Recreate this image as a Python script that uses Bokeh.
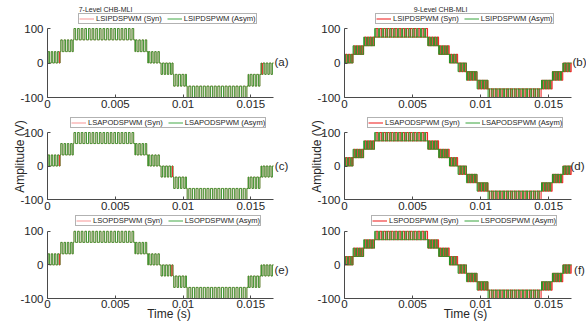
import math
from bokeh.plotting import figure
from bokeh.models import Legend, LegendItem, Label, FixedTicker, Range1d
from bokeh.layouts import column, row
from bokeh.embed import file_html
from bokeh.resources import INLINE

# ---------------- data (times in ms, amplitudes in V) ----------------
# 7-level CHB-MLI staircase bands
steps7_start = [0.00, 0.93, 1.90, 6.45, 7.40, 8.33, 9.26, 10.25, 14.80, 15.75]
steps7_end   = [0.93, 1.90, 6.45, 7.40, 8.33, 9.26, 10.25, 14.80, 15.75, 16.67]
steps7_low   = [0, 33, 67, 33, 0, -33, -67, -100, -67, -33]
steps7_high  = [33, 67, 100, 67, 33, 0, -33, -67, -33, 0]
pulses7      = [4, 4, 17, 4, 4, 4, 4, 17, 4, 4]

# 9-level CHB-MLI staircase bands
steps9_start = [0.00, 0.62, 1.40, 2.20, 6.13, 6.93, 7.71, 8.33, 8.95, 9.73, 10.53, 14.47, 15.27, 16.05]
steps9_end   = [0.62, 1.40, 2.20, 6.13, 6.93, 7.71, 8.33, 8.95, 9.73, 10.53, 14.47, 15.27, 16.05, 16.67]
steps9_low   = [0, 25, 50, 75, 50, 25, 0, -25, -50, -75, -100, -75, -50, -25]
steps9_high  = [25, 50, 75, 100, 75, 50, 25, 0, -25, -50, -75, -50, -25, 0]
pulses9      = [3, 4, 4, 14, 4, 4, 3, 3, 4, 4, 14, 4, 4, 3]

# instants where only the symmetric (Syn) waveform switches, 7-level panels
syn_only_a = [0.90, 15.85]
syn_only_c = [0.90, 9.22]
syn_only_e = [0.90, 9.18]

syn_labels  = ["LSIPDSPWM (Syn)", "LSIPDSPWM (Syn)", "LSAPODSPWM (Syn)",
               "LSAPODSPWM (Syn)", "LSOPDSPWM (Syn)", "LSPODSPWM (Syn)"]
asym_labels = ["LSIPDSPWM (Asym)", "LSIPDSPWM (Asym)", "LSAPODSPWM (Asym)",
               "LSAPODSPWM (Asym)", "LSOPDSPWM (Asym)", "LSPODSPWM (Asym)"]
panel_tags  = ["(a)", "(b)", "(c)", "(d)", "(e)", "(f)"]
col_titles  = ["7-Level CHB-MLI", "9-Level CHB-MLI"]

x_ticks_ms    = [0, 5, 10, 15]
x_tick_labels = ["0", "0.005", "0.01", "0.015"]
y_ticks       = [-100, 0, 100]
y_tick_labels = ["-100", "0", "100"]
x_label = "Time (s)"
y_label = "Amplitude (V)"
period_ms = 16.67
amp = 100

# ---------------- styles / geometry (pixels) ----------------
GREEN = "#229a26"
RED = "#ee2b2b"
FONT = "Liberation Sans"
TXT = "#262626"
AX = "#4a4a4a"

COLS = [dict(W=290, left=47, axis_len=226), dict(W=296, left=54, axis_len=227)]
ROWS = [dict(H=113, bottom=16, y100=28), dict(H=102, bottom=16, y100=19), dict(H=108, bottom=24, y100=16)]
LEG_X = [31, 31, 23, 23, 28, 27]
LEG_Y = [73, 73, 71, 71, 72, 72]
TAG_X = [234, 235, 234, 233, 234, 235]
TAG_Y = [36, 36, 34, 34, 29, 29]


def pwm_path(starts, ends, lows, highs, counts, phase, duty):
    xs, ys = [], []
    for s, e, lo, hi, n in zip(starts, ends, lows, highs, counts):
        base, peak = (lo, hi) if lo >= 0 else (hi, lo)
        w = (e - s) / n
        for k in range(n):
            t0 = s + (k + phase) * w
            t1 = t0 + duty * w
            xs += [s + k * w, t0, t0, t1, t1]
            ys += [base, base, peak, peak, base]
        xs.append(e)
        ys.append(base)
    return xs, ys


def band_of(t, starts, ends, lows, highs):
    for s, e, lo, hi in zip(starts, ends, lows, highs):
        if s <= t <= e:
            return lo, hi
    return 0, 0


def make_panel(idx, level9, syn_only):
    c = COLS[idx % 2]
    r = idx // 2
    g = ROWS[r]
    fh = g["H"] - g["bottom"]
    x_end = period_ms * (c["W"] - c["left"]) / c["axis_len"]
    y_top = amp + g["y100"] * 2 * amp / (fh - g["y100"])
    p = figure(width=c["W"], height=g["H"], min_border_left=c["left"], min_border_right=0,
               min_border_top=0, min_border_bottom=g["bottom"],
               x_range=Range1d(0, x_end), y_range=Range1d(-amp, y_top),
               output_backend="svg", toolbar_location=None)
    p.outline_line_color = None
    p.grid.visible = False
    p.background_fill_color = "white"
    p.border_fill_color = "white"

    if level9:
        st = (steps9_start, steps9_end, steps9_low, steps9_high, pulses9)
        rx, ry = pwm_path(*st, phase=0.42, duty=0.46)
        gx, gy = pwm_path(*st, phase=0.04, duty=0.3)
        r_red = p.line(rx, ry, line_color=RED, line_width=1.1)
        r_green = p.line(gx, gy, line_color=GREEN, line_width=0.9)
    else:
        st = (steps7_start, steps7_end, steps7_low, steps7_high, pulses7)
        gx, gy = pwm_path(*st, phase=0.2, duty=0.45)
        r_red = p.line(gx, gy, line_color=RED, line_width=0.5)
        r_green = p.line(gx, gy, line_color=GREEN, line_width=0.85)
    if syn_only:
        y0s, y1s = [], []
        for t in syn_only:
            lo, hi = band_of(t, steps7_start, steps7_end, steps7_low, steps7_high)
            y0s.append(lo)
            y1s.append(hi)
        p.segment(x0=syn_only, x1=syn_only, y0=y0s, y1=y1s, line_color=RED, line_width=1)

    for ax in (p.xaxis[0], p.yaxis[0]):
        ax.axis_line_color = AX
        ax.major_tick_line_color = AX
        ax.major_tick_in = 3
        ax.major_tick_out = 0
        ax.minor_tick_line_color = None
        ax.major_label_text_font = FONT
        ax.major_label_text_font_size = "11.5px"
        ax.major_label_text_color = TXT
        ax.axis_label_text_font = FONT
        ax.axis_label_text_font_size = "12px"
        ax.axis_label_text_font_style = "normal"
        ax.axis_label_text_color = TXT
    p.xaxis.bounds = (0, period_ms)
    p.yaxis.bounds = (-amp, amp)
    p.xaxis.ticker = FixedTicker(ticks=x_ticks_ms)
    p.xaxis.major_label_overrides = dict(zip(x_ticks_ms, x_tick_labels))
    p.xaxis.major_label_standoff = 2
    p.yaxis.ticker = FixedTicker(ticks=y_ticks)
    p.yaxis.major_label_overrides = dict(zip(y_ticks, y_tick_labels))
    p.yaxis.major_label_standoff = 4
    p.yaxis.axis_label_standoff = -10
    if r == 1:
        p.yaxis.axis_label = y_label
    if r == 2:
        p.xaxis.axis_label = x_label
        p.xaxis.major_label_standoff = 1
        p.xaxis.axis_label_standoff = -4

    leg = Legend(items=[LegendItem(label=syn_labels[idx], renderers=[r_red]),
                        LegendItem(label=asym_labels[idx], renderers=[r_green])],
                 location=(LEG_X[idx], LEG_Y[idx]), orientation="horizontal",
                 label_text_font=FONT, label_text_font_size="7.6px", label_text_color=TXT,
                 glyph_width=15, glyph_height=5, label_height=5, label_standoff=2,
                 spacing=5, padding=0, margin=0,
                 border_line_color="#666666", border_line_width=1,
                 background_fill_color="white", background_fill_alpha=1)
    p.add_layout(leg)

    p.add_layout(Label(x=TAG_X[idx], y=TAG_Y[idx], x_units="screen", y_units="screen",
                       text=panel_tags[idx], text_font=FONT, text_font_size="11.5px",
                       text_color=TXT, text_align="center", text_baseline="middle"))
    if r == 0:
        p.add_layout(Label(x=58 if idx == 0 else 96, y=88, x_units="screen", y_units="screen",
                           text=col_titles[idx], text_font=FONT,
                           text_font_size="7px", text_color=TXT,
                           text_align="center", text_baseline="middle"))
    return p


panels = [
    make_panel(0, False, syn_only_a),
    make_panel(1, True, None),
    make_panel(2, False, syn_only_c),
    make_panel(3, True, None),
    make_panel(4, False, syn_only_e),
    make_panel(5, True, None),
]

layout = column(row(panels[0], panels[1]), row(panels[2], panels[3]), row(panels[4], panels[5]))
open("out.html", "w").write(file_html(layout, INLINE))
